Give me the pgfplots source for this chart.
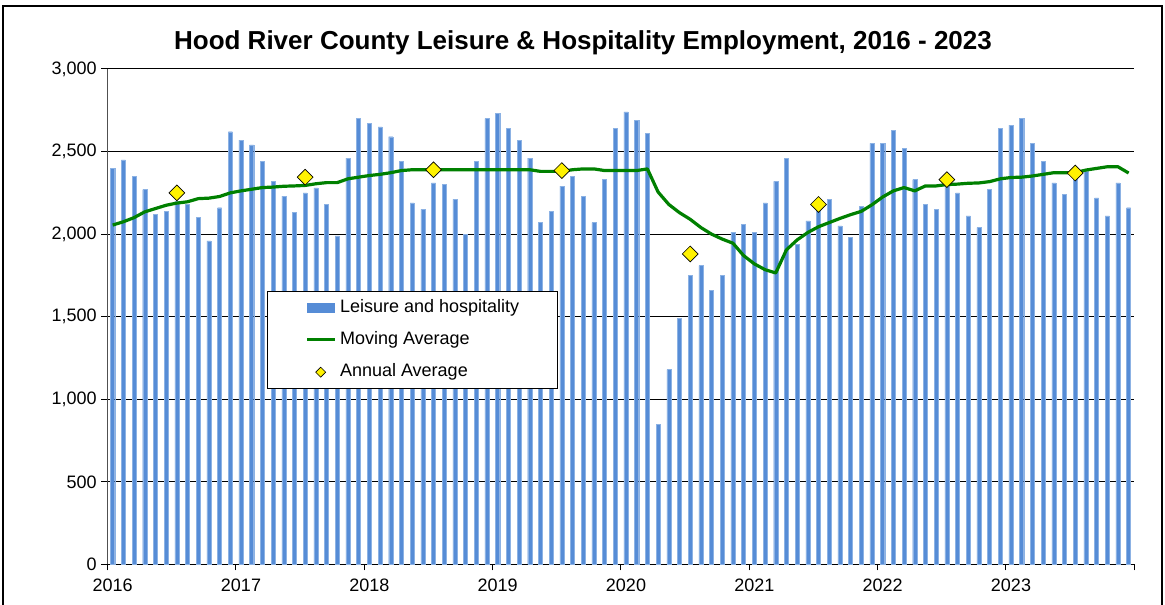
\documentclass[border=0pt]{standalone}
\usepackage{fontspec}
\setmainfont{Liberation Sans}
\usepackage{pgfplots}
\pgfplotsset{compat=1.18}
\definecolor{barblue}{RGB}{86,140,214}
\definecolor{baredge}{RGB}{140,178,228}
\definecolor{magreen}{RGB}{0,128,0}
\definecolor{axgray}{RGB}{80,80,80}
\pgfplotstableread{
x y
0.5 2400
1.5 2450
2.5 2350
3.5 2270
4.5 2120
5.5 2140
6.5 2200
7.5 2180
8.5 2100
9.5 1960
10.5 2160
11.5 2620
12.5 2570
13.5 2540
14.5 2440
15.5 2320
16.5 2230
17.5 2130
18.5 2250
19.5 2280
20.5 2180
21.5 1990
22.5 2460
23.5 2700
24.5 2670
25.5 2650
26.5 2590
27.5 2440
28.5 2190
29.5 2150
30.5 2310
31.5 2300
32.5 2210
33.5 2000
34.5 2440
35.5 2700
36.5 2730
37.5 2640
38.5 2570
39.5 2460
40.5 2070
41.5 2140
42.5 2290
43.5 2350
44.5 2230
45.5 2070
46.5 2330
47.5 2640
48.5 2740
49.5 2690
50.5 2610
51.5 850
52.5 1180
53.5 1490
54.5 1750
55.5 1810
56.5 1660
57.5 1750
58.5 2010
59.5 2060
60.5 2010
61.5 2190
62.5 2320
63.5 2460
64.5 1940
65.5 2080
66.5 2180
67.5 2210
68.5 2050
69.5 1980
70.5 2170
71.5 2550
72.5 2550
73.5 2630
74.5 2520
75.5 2330
76.5 2180
77.5 2150
78.5 2290
79.5 2250
80.5 2110
81.5 2040
82.5 2270
83.5 2640
84.5 2660
85.5 2700
86.5 2550
87.5 2440
88.5 2310
89.5 2240
90.5 2350
91.5 2380
92.5 2220
93.5 2110
94.5 2310
95.5 2160
}\bars
\pgfplotstableread{
x y
0.5 2055
1.5 2075
2.5 2100
3.5 2135
4.5 2155
5.5 2175
6.5 2188
7.5 2196
8.5 2215
9.5 2218
10.5 2228
11.5 2250
12.5 2262
13.5 2272
14.5 2282
15.5 2285
16.5 2290
17.5 2292
18.5 2295
19.5 2305
20.5 2312
21.5 2312
22.5 2335
23.5 2345
24.5 2355
25.5 2362
26.5 2372
27.5 2385
28.5 2390
29.5 2390
30.5 2390
31.5 2390
32.5 2390
33.5 2390
34.5 2390
35.5 2390
36.5 2390
37.5 2390
38.5 2390
39.5 2390
40.5 2380
41.5 2380
42.5 2380
43.5 2390
44.5 2395
45.5 2395
46.5 2385
47.5 2385
48.5 2385
49.5 2385
50.5 2395
51.5 2255
52.5 2180
53.5 2130
54.5 2090
55.5 2040
56.5 2000
57.5 1970
58.5 1945
59.5 1870
60.5 1820
61.5 1785
62.5 1765
63.5 1905
64.5 1965
65.5 2010
66.5 2045
67.5 2070
68.5 2095
69.5 2118
70.5 2138
71.5 2178
72.5 2225
73.5 2262
74.5 2282
75.5 2262
76.5 2292
77.5 2292
78.5 2300
79.5 2303
80.5 2308
81.5 2310
82.5 2318
83.5 2335
84.5 2343
85.5 2345
86.5 2352
87.5 2362
88.5 2372
89.5 2372
90.5 2372
91.5 2388
92.5 2398
93.5 2408
94.5 2408
95.5 2370
}\mavg
\pgfplotstableread{
x y
6.5 2250
18.5 2345
30.5 2390
42.5 2385
54.5 1880
66.5 2180
78.5 2330
90.5 2370
}\annual
\begin{document}
\begin{tikzpicture}
\useasboundingbox (0,0) rectangle (873.75pt,453.75pt);
\draw[line width=0.9pt] (2.25pt,-2pt) -- (2.25pt,449.25pt) -- (871.5pt,449.25pt) -- (871.5pt,-2pt);
\node[anchor=base, font=\bfseries\fontsize{19.5}{22}\selectfont] at (437.25pt,416.5pt) {Hood River County Leisure \& Hospitality Employment, 2016 - 2023};
\begin{axis}[
  at={(80.5pt,30.4pt)}, anchor=south west,
  scale only axis, width=770pt, height=371.6pt,
  xmin=0, xmax=96, ymin=0, ymax=3000,
  axis lines=left,
  axis line style={-},
  x axis line style={black, line width=0.75pt},
  y axis line style={axgray, line width=1pt},
  ytick={0,500,...,3000},
  ymajorgrids, grid style={black, line width=0.75pt},
  xtick={0,12,...,96},
  xticklabels={2016,2017,2018,2019,2020,2021,2022,2023,{}},
  tick align=outside, major tick length=4.5pt,
  tick style={black, line width=0.75pt},
  ticklabel style={font=\fontsize{13.5}{16}\selectfont},
  /pgf/number format/1000 sep={,},
  /pgf/number format/assume math mode=true,
  xticklabel style={xshift=4pt, yshift=-3pt},
  legend cell align=left,
  legend style={at={(0.1553,0.5526)}, anchor=north west, draw=black, line width=0.75pt, fill=white,
    font=\fontsize{13.5}{16}\selectfont, inner xsep=29pt, inner ysep=6.4pt, row sep=12.2pt, column sep=2.5pt,
    nodes={inner sep=0pt, text height=9.5pt, text depth=2.5pt}},
]
\addplot[ybar, bar width=0.38, fill=barblue, draw=baredge, line width=0.3pt,
  legend image code/.code={\fill[barblue] (0pt,-3.5pt) rectangle (19.7pt,3.5pt); \path[draw=none] (0pt,0pt) -- (20.8pt,0pt);}]
  table[x=x,y=y] {\bars};
\addlegendentry{Leisure and hospitality}
\addplot[magreen, line width=2.4pt, line join=round, no markers,
  legend image code/.code={\draw[magreen, line width=2.25pt] (0pt,0pt) -- (20.8pt,0pt);}]
  table[x=x,y=y] {\mavg};
\addlegendentry{Moving Average}
\addplot[only marks, mark=square*, mark size=4.2pt, mark options={rotate=45, fill=yellow, draw=black, line width=0.5pt},
  legend image code/.code={\path[draw=none] (0pt,0pt) -- (20.8pt,0pt); \filldraw[fill=yellow, draw=black, line width=0.4pt] (9.9pt,-3.75pt) -- (13.65pt,0pt) -- (9.9pt,3.75pt) -- (6.15pt,0pt) -- cycle;}]
  table[x=x,y=y] {\annual};
\addlegendentry{Annual Average}
\end{axis}
\end{tikzpicture}
\end{document}
